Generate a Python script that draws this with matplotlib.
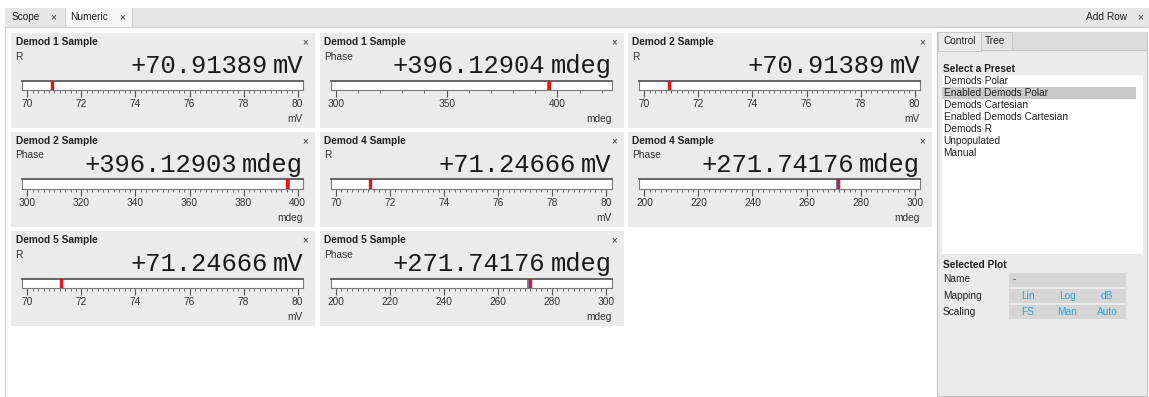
import matplotlib
matplotlib.use("Agg")
import matplotlib.pyplot as plt
from matplotlib.patches import Rectangle
from matplotlib.lines import Line2D
import numpy as np

# ---------------- data ----------------
titles = ["Demod 1 Sample", "Demod 1 Sample", "Demod 2 Sample", "Demod 2 Sample",
          "Demod 4 Sample", "Demod 4 Sample", "Demod 5 Sample", "Demod 5 Sample"]
signals = ["R", "Phase", "R", "Phase", "R", "Phase", "R", "Phase"]
values = [70.91389, 396.12904, 70.91389, 396.12903, 71.24666, 271.74176, 71.24666, 271.74176]
blue_marks = [None, 395.70, None, 397.00, None, 271.10, None, 271.10]
units = ["mV", "mdeg", "mV", "mdeg", "mV", "mdeg", "mV", "mdeg"]
scale_lo = [70, 300, 70, 300, 70, 200, 70, 200]
scale_hi = [80, 422, 80, 400, 80, 300, 80, 300]
major_step = [2, 50, 2, 20, 2, 20, 2, 20]
minor_step = [0.2, 10, 0.2, 2, 0.2, 2, 0.2, 2]

tabs = ["Scope", "Numeric"]
presets = ["Demods Polar", "Enabled Demods Polar", "Demods Cartesian",
           "Enabled Demods Cartesian", "Demods R", "Unpopulated", "Manual"]
selected_preset = "Enabled Demods Polar"
plot_rows = ["Name", "Mapping", "Scaling"]
plot_opts = [["-"], ["Lin", "Log", "dB"], ["FS", "Man", "Auto"]]

# ---------------- figure ----------------
W, H, DPI = 1149, 397, 100
fig = plt.figure(figsize=(W / DPI, H / DPI), dpi=DPI)
fig.patch.set_facecolor("white")

SANS = ["Liberation Sans", "DejaVu Sans"]
MONO = ["Liberation Mono", "DejaVu Sans Mono"]
BLUE_TXT = "#2aa6de"


def fx(x):
    return x / W


def fy(y):
    return 1 - y / H


def rect(x0, y0, x1, y1, fc, ec="none", lw=0.0, z=0):
    r = Rectangle((fx(x0), fy(y1)), (x1 - x0) / W, (y1 - y0) / H,
                  transform=fig.transFigure, facecolor=fc, edgecolor=ec,
                  linewidth=lw, zorder=z)
    fig.add_artist(r)
    return r


def hline(x0, x1, y, c, lw=0.8, z=1):
    fig.add_artist(Line2D([fx(x0), fx(x1)], [fy(y), fy(y)], transform=fig.transFigure,
                          color=c, lw=lw, zorder=z))


def vline(x, y0, y1, c, lw=0.8, z=1):
    fig.add_artist(Line2D([fx(x), fx(x)], [fy(y0), fy(y1)], transform=fig.transFigure,
                          color=c, lw=lw, zorder=z))


def text(x, y, s, size=7.3, ha="left", va="center", weight="normal",
         color="#333333", family=SANS, z=3):
    return fig.text(fx(x), fy(y), s, fontsize=size, ha=ha, va=va, fontweight=weight,
                    color=color, family=family, zorder=z)


# ---------------- top tab bar ----------------
rect(5, 8, W, 27, "#e6e6e6", z=0)
hline(5, W, 27, "#cfcfcf")
rect(65, 8, 131.5, 27.5, "#f7f7f7", z=0.5)
vline(65, 8, 27, "#cfcfcf")
vline(131.5, 8, 27, "#cfcfcf")
vline(5, 27, H, "#cfcfcf")
text(12, 17.5, tabs[0], color="#222222")
text(53, 17.5, "×", ha="center", color="#333333")
text(70, 17.5, tabs[1], color="#222222")
text(122, 17.5, "×", ha="center", color="#333333")
text(1127, 17.5, "Add Row", ha="right", color="#222222")
text(1140, 17.5, "×", ha="center", color="#333333")

# ---------------- numeric panels ----------------
col_x = [11, 319.5, 628]
row_y = [32.5, 131.5, 230.5]
PW, PH = 304, 95

renderer = fig.canvas.get_renderer()

for i in range(len(values)):
    px0 = col_x[i % 3]
    py0 = row_y[i // 3]
    rect(px0, py0, px0 + PW, py0 + PH, "#ebebeb", z=0)
    text(px0 + 4.5, py0 + 9.5, titles[i], weight="bold", color="#222222")
    text(px0 + 294.5, py0 + 9.5, "×", size=7, ha="center", color="#333333")
    text(px0 + 4.5, py0 + 24, signals[i], color="#333333")

    # big readout: unit right aligned, number right before it
    right = px0 + 292
    base = py0 + 40.5
    ut = text(right, base, units[i], size=18.4, ha="right", va="baseline",
              family=MONO, color="#1a1a1a")
    ext = ut.get_window_extent(renderer=renderer)
    fig.text(ext.x0 / W - 5 / W, fy(base), f"{values[i]:+.5f}", fontsize=18.4,
             ha="right", va="baseline", family=MONO, color="#1a1a1a", zorder=3)

    # gauge bar
    bx0, bx1 = px0 + 11, px0 + 292
    by0, by1 = py0 + 48, py0 + 57
    ax = fig.add_axes([fx(bx0), fy(by1), (bx1 - bx0) / W, (by1 - by0) / H])
    lo, hi = scale_lo[i], scale_hi[i]
    pad = 0.02 * (hi - lo)
    ax.set_xlim(lo - pad, hi + pad)
    ax.set_ylim(0, 1)
    ax.set_facecolor("white")
    ax.set_yticks([])
    majors = np.arange(lo, hi + 1e-9, major_step[i])
    minors = np.arange(lo, hi + 1e-9, minor_step[i])
    ax.set_xticks(majors)
    ax.set_xticklabels([f"{m:g}" for m in majors])
    ax.set_xticks(minors, minor=True)
    ax.tick_params(axis="x", which="major", direction="out", length=5, width=0.8,
                   color="#555555", labelsize=7.3, labelcolor="#333333", pad=2)
    ax.tick_params(axis="x", which="minor", direction="out", length=2.5, width=0.7,
                   color="#666666")
    for lab in ax.get_xticklabels():
        lab.set_family(SANS)
    for side in ["left", "right", "bottom"]:
        ax.spines[side].set_color("#7a7a7a")
        ax.spines[side].set_linewidth(0.8)
    ax.spines["top"].set_color("#5a5a5a")
    ax.spines["top"].set_linewidth(1.3)
    if blue_marks[i] is not None:
        ax.axvline(blue_marks[i], color="#3d6fd6", lw=1.2, zorder=2)
    ax.axvline(values[i], color="#e8141c", lw=2.4, zorder=3)

    text(right, py0 + 86, units[i], ha="right", color="#333333")

# ---------------- right control panel ----------------
rect(937, 31.5, 1147, 396, "#ebebeb", ec="#c4c4c4", lw=0.8, z=0)
rect(937.5, 32, 1146.5, 50, "#dcdcdc", z=0.5)
hline(937, 1147, 50, "#c4c4c4", z=0.6)
rect(937.5, 32, 980.5, 50.5, "#ebebeb", ec="#c4c4c4", lw=0.6, z=0.7)
rect(980.5, 32, 1011.5, 50, "#e3e3e3", ec="#c4c4c4", lw=0.6, z=0.7)
text(943, 41.5, "Control", color="#222222")
text(985, 41.5, "Tree", color="#222222")

text(943, 68.5, "Select a Preset", weight="bold", color="#222222")
rect(941.5, 75, 1142.5, 254, "white", z=0.5)
for k, name in enumerate(presets):
    yy = 81 + 12 * k
    if name == selected_preset:
        rect(941.5, yy - 5.8, 1136, yy + 6, "#c9c9c9", z=0.8)
    text(943.5, yy, name, color="#222222")

text(943, 265, "Selected Plot", weight="bold", color="#222222")
box_y = [(272.5, 286.5), (289, 303.3), (305, 319.3)]
opt_x = [1028, 1067, 1107]
for k, lab in enumerate(plot_rows):
    y0, y1 = box_y[k]
    yc = (y0 + y1) / 2
    rect(1009, y0, 1126, y1, "#d5d5d5", z=0.5)
    text(943, yc, lab, color="#222222")
    opts = plot_opts[k]
    if len(opts) == 1:
        text(1013, yc, opts[0], color="#555555")
    else:
        for j, o in enumerate(opts):
            text(opt_x[j], yc, o, ha="center", color=BLUE_TXT)

fig.savefig("out.png", dpi=DPI)
